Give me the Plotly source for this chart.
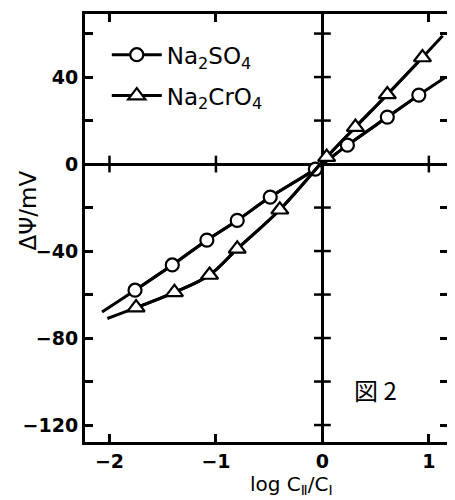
import plotly.graph_objects as go

# Data
so4_x = [-1.76, -1.41, -1.085, -0.80, -0.49, -0.066, 0.235, 0.61, 0.906]
so4_y = [-58, -46.4, -35, -25.9, -15.2, -2.3, 8.7, 21.6, 31.7]
# drawn curve ends beyond the measured points
so4_end_x = [-2.07, 1.16]
so4_end_y = [-68, 40]

cro4_x = [-1.75, -1.39, -1.06, -0.80, -0.40, 0.04, 0.31, 0.61, 0.94]
cro4_y = [-66, -59, -51, -39, -21, 3.2, 17, 32, 49]
cro4_end_x = [-2.02, 1.13]
cro4_end_y = [-71, 59]

x_ticks = [-2, -1, 0, 1]
y_ticks = [40, 0, -40, -80, -120]
y_minor = [60, 40, 20, -20, -40, -60, -80, -100, -120]

font = "DejaVu Sans"
ink = "black"

fig = go.Figure()

def add_series(x, y, ex, ey, name, symbol, size, group):
    cx = [ex[0]] + x + [ex[1]]
    cy = [ey[0]] + y + [ey[1]]
    fig.add_trace(go.Scatter(x=cx, y=cy, mode="lines", legendgroup=group,
                             line=dict(color=ink, width=3, shape="spline"),
                             showlegend=False, hoverinfo="skip"))
    fig.add_trace(go.Scatter(x=x, y=y, mode="lines+markers", name=name, legendgroup=group,
                             line=dict(color=ink, width=3, shape="spline"),
                             marker=dict(symbol=symbol, size=size, color="white",
                                         opacity=1, line=dict(color=ink, width=2.2))))

add_series(so4_x, so4_y, so4_end_x, so4_end_y, "Na<sub>2</sub>SO<sub>4</sub>", "circle", 13, "a")
add_series(cro4_x, cro4_y, cro4_end_x, cro4_end_y, "Na<sub>2</sub>CrO<sub>4</sub>", "triangle-up", 15, "b")

# Ticks crossing the zero lines
fig.add_trace(go.Scatter(x=[t for t in x_ticks if t != 0], y=[0] * 3, mode="markers",
                         marker=dict(symbol="line-ns", size=12, line=dict(color=ink, width=2.5)),
                         showlegend=False, hoverinfo="skip"))
fig.add_trace(go.Scatter(x=[0] * len(y_minor), y=y_minor, mode="markers",
                         marker=dict(symbol="line-ew", size=12, line=dict(color=ink, width=2.5)),
                         showlegend=False, hoverinfo="skip"))

fig.add_annotation(x=0.5, y=-103.5, text="図 2", showarrow=False,
                   font=dict(family="Noto Sans CJK JP", size=24, color=ink))
fig.add_annotation(xref="paper", yref="paper", x=0.57, y=-0.1, xanchor="center", yanchor="middle",
                   text="log C<sub>Ⅱ</sub>/C<sub>Ⅰ</sub>", showarrow=False,
                   font=dict(size=20, color=ink))
fig.add_annotation(xref="paper", yref="paper", x=-0.158, y=0.54, xanchor="center", yanchor="middle",
                   textangle=-90, text="ΔΨ/mV", showarrow=False,
                   font=dict(size=23, color=ink))

# page body has an 8px margin: size/margins compensate so the plot frame lands at x 86-447, y 12-440
fig.update_layout(
    width=447, height=492,
    margin=dict(l=77, r=7, t=6, b=58),
    paper_bgcolor="white", plot_bgcolor="white",
    font=dict(family=font, size=16, color=ink),
    showlegend=True,
    legend=dict(x=0.06, y=0.955, xanchor="left", yanchor="top", traceorder="grouped",
                bgcolor="rgba(0,0,0,0)", font=dict(size=23, family=font),
                itemwidth=50, tracegroupgap=8),
    xaxis=dict(range=[-2.23, 1.18], tickvals=x_ticks, ticks="inside", ticklen=8,
               tickwidth=2.5, tickcolor=ink, showline=True, linewidth=3, linecolor=ink,
               mirror="allticks", showgrid=False, zeroline=True, zerolinewidth=3,
               zerolinecolor=ink, tickfont=dict(size=19, weight="bold"), automargin=False),
    yaxis=dict(range=[-127.8, 69], tickvals=y_ticks,
               ticks="inside", ticklen=8, tickwidth=2.5, tickcolor=ink,
               minor=dict(dtick=20, tick0=0, ticks="inside", ticklen=8, tickwidth=2.5, tickcolor=ink),
               showline=True, linewidth=3, linecolor=ink, mirror="allticks",
               showgrid=False, zeroline=True, zerolinewidth=3, zerolinecolor=ink,
               tickfont=dict(size=19, weight="bold"), automargin=False),
)

fig.write_html("out.html")
